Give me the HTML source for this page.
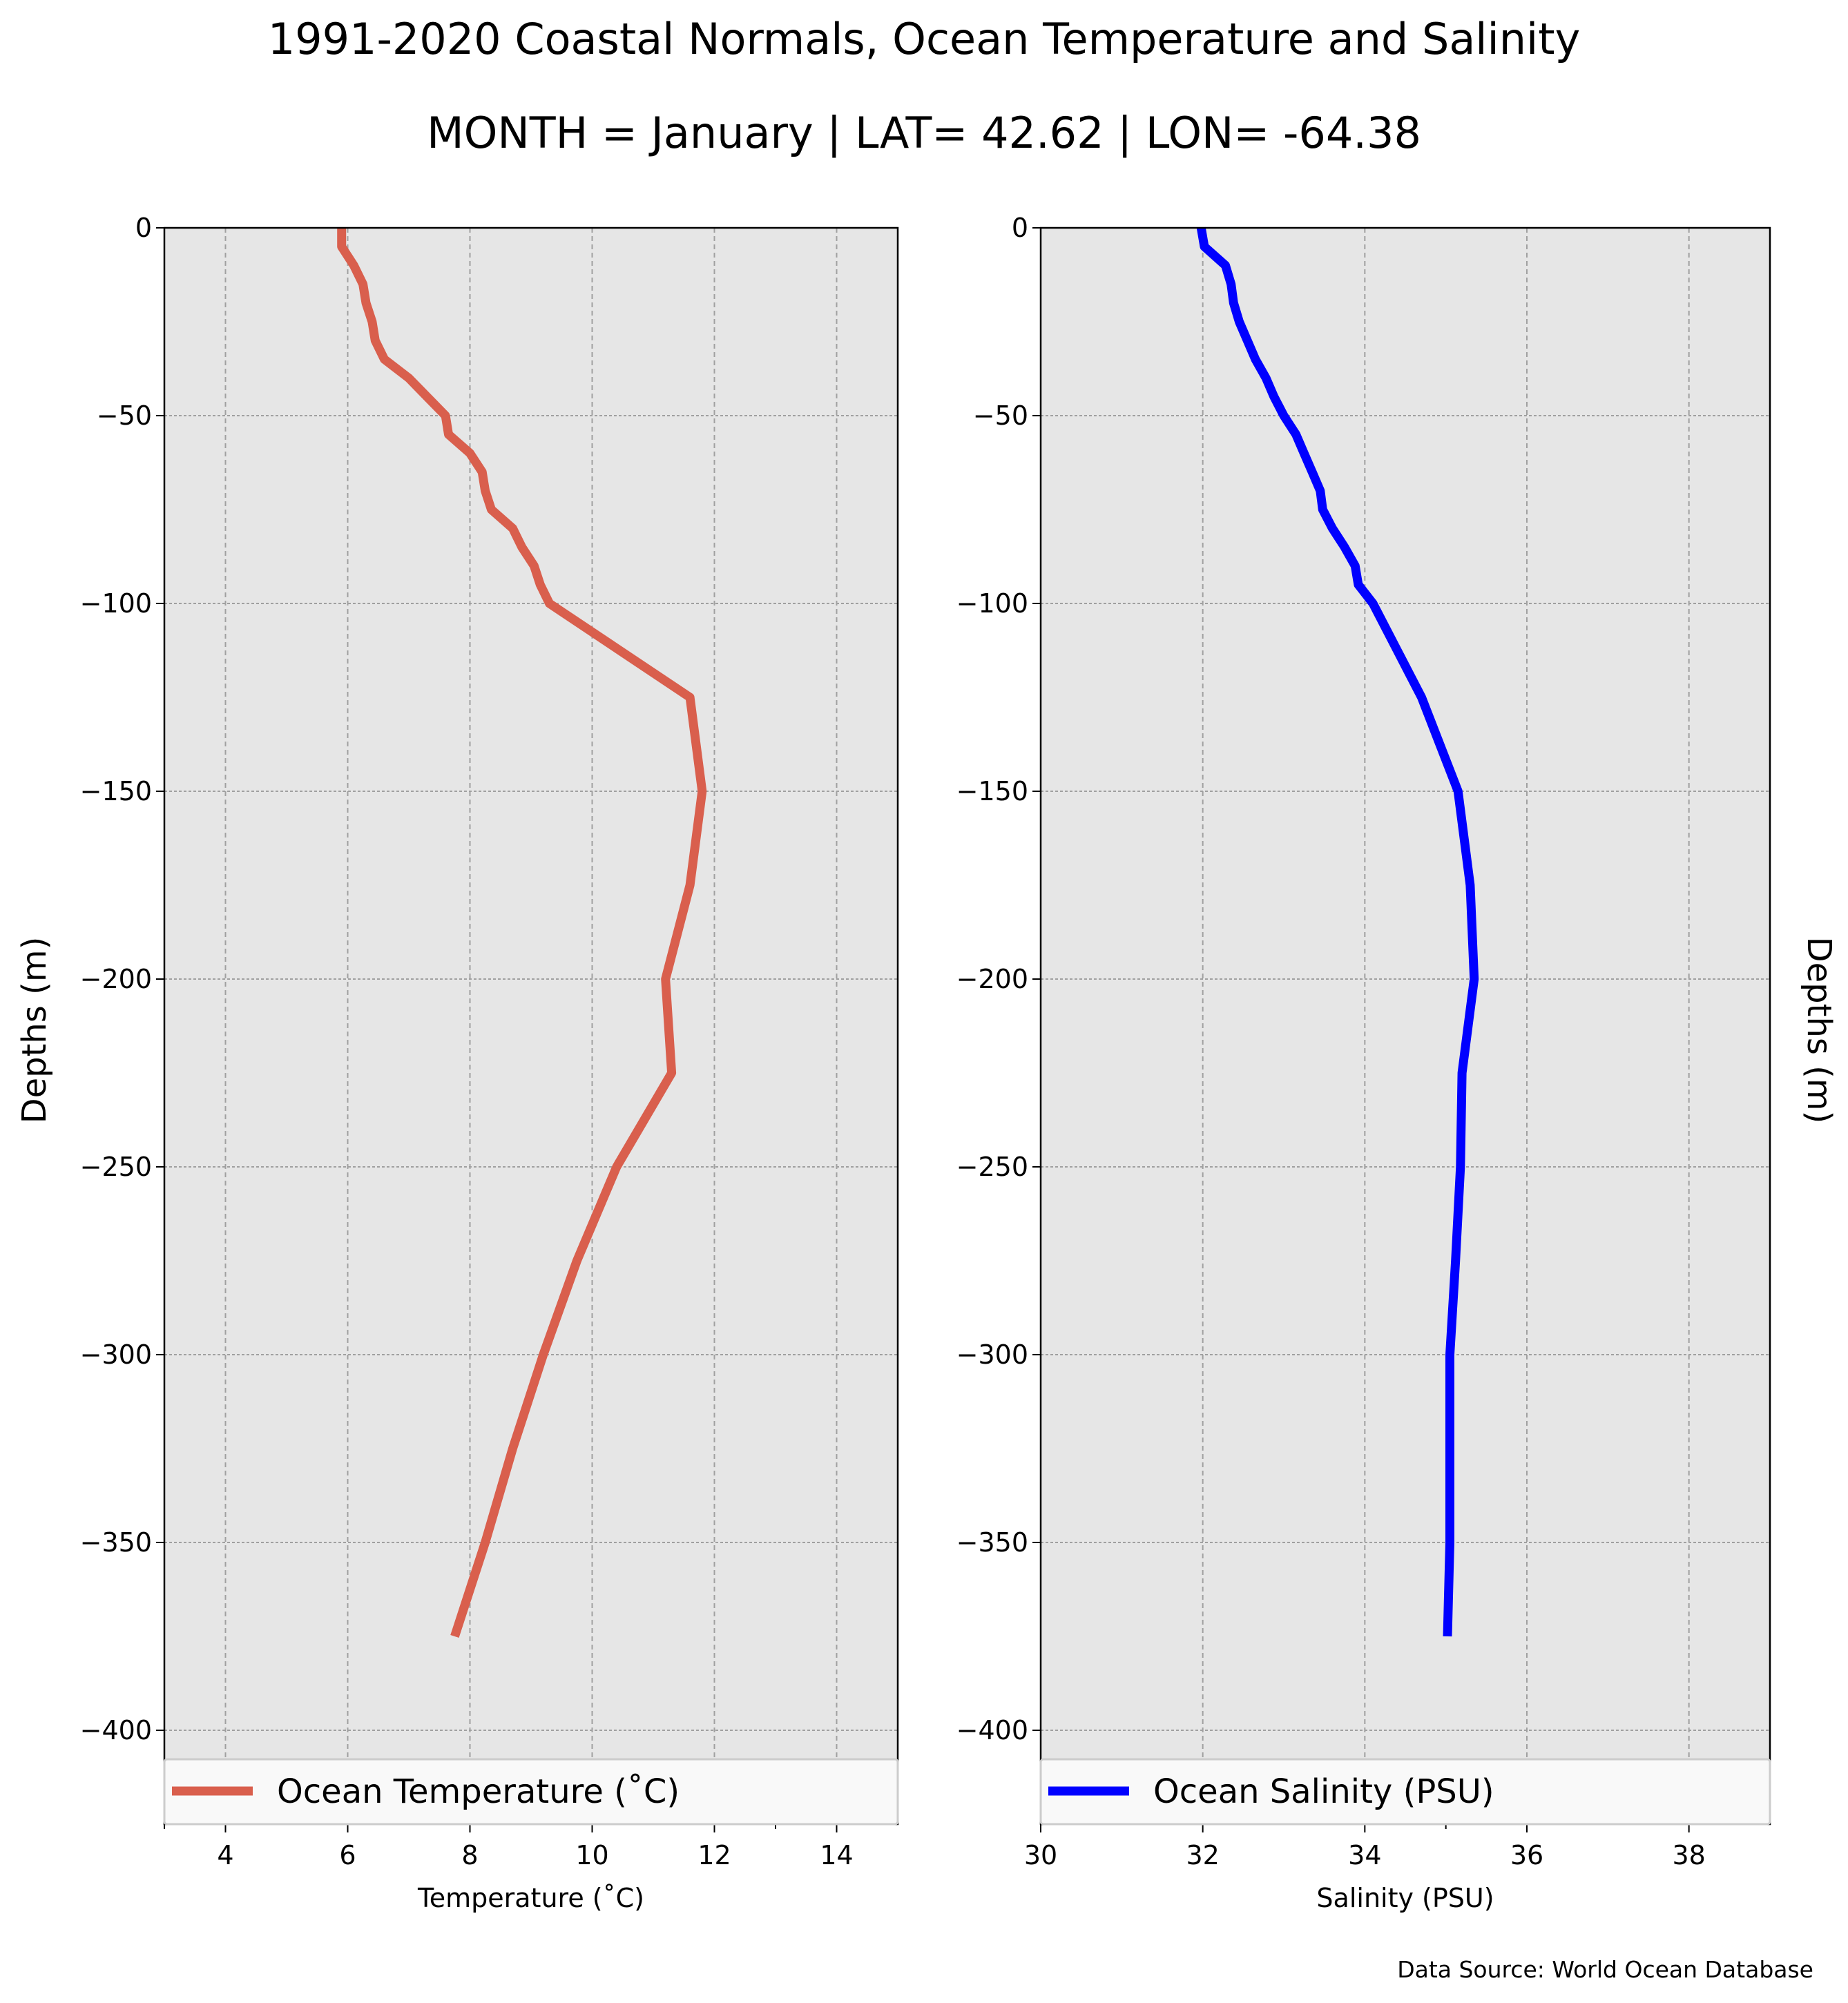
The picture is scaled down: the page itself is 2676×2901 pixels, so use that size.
<!DOCTYPE html>
<html><head><meta charset="utf-8"><style>
html,body{margin:0;padding:0;background:#fff;}
svg{display:block;font-family:"DejaVu Sans","Liberation Sans",sans-serif;}
</style></head><body>
<svg id="fig" width="2676" height="2901" viewBox="0 0 2676 2901" xmlns="http://www.w3.org/2000/svg">
<text x="1338" y="78" font-size="62" text-anchor="middle">1991-2020 Coastal Normals, Ocean Temperature and Salinity</text>
<text x="1338" y="214" font-size="62" text-anchor="middle">MONTH = January | LAT= 42.62 | LON= -64.38</text>
<text transform="translate(66,1492) rotate(-90)" font-size="48" text-anchor="middle">Depths (m)</text>
<text transform="translate(2618,1492) rotate(90)" font-size="48" text-anchor="middle">Depths (m)</text>
<text x="2626" y="2864" font-size="33" text-anchor="end">Data Source: World Ocean Database</text>
<g id="p1"></g>
<g id="p2"></g>
</svg>
<script>
const depths = [0,5,10,15,20,25,30,35,40,45,50,55,60,65,70,75,80,85,90,95,100,125,150,175,200,225,250,275,300,325,350,375];
const temperature = [5.9,5.9,6.1,6.25,6.3,6.4,6.45,6.6,7.0,7.3,7.6,7.65,8.0,8.2,8.25,8.35,8.7,8.85,9.05,9.15,9.3,11.6,11.8,11.6,11.2,11.3,10.4,9.75,9.2,8.7,8.25,7.75];
const salinity = [31.98,32.02,32.28,32.35,32.38,32.45,32.55,32.65,32.78,32.88,33.0,33.15,33.25,33.35,33.45,33.48,33.6,33.75,33.88,33.92,34.1,34.7,35.15,35.3,35.35,35.2,35.18,35.12,35.05,35.05,35.05,35.02];
const depthTicks = [0,-50,-100,-150,-200,-250,-300,-350,-400];
const tempTicks = [4,6,8,10,12,14];
const tempMinor = [3,13];
const salTicks = [30,32,34,36,38];
const salMinor = [35];

const NS="http://www.w3.org/2000/svg";
const plotTop=330, plotBottom=2642, dmin=-425;
function yScale(d){return plotTop+(0-d)/(0-dmin)*(plotBottom-plotTop);}
function mk(parent,tag,attrs){const e=document.createElementNS(NS,tag);for(const k in attrs)e.setAttribute(k,attrs[k]);parent.appendChild(e);return e;}

function panel(gid,x0,x1,vmin,vmax,vals,ticks,minor,color,xlabel,legendText,key){
  const g=document.getElementById(gid);
  const xs=v=>x0+(v-vmin)/(vmax-vmin)*(x1-x0);
  const bg=mk(g,'rect',{x:x0,y:plotTop,width:x1-x0,height:plotBottom-plotTop,fill:'#e6e6e6'});
  
  
  ticks.forEach(t=>{
    const l=mk(g,'line',{x1:xs(t),x2:xs(t),y1:plotTop,y2:plotBottom,stroke:'#a0a0a0','stroke-width':2,'stroke-dasharray':'7,5'});
    
    
    const tk=mk(g,'line',{x1:xs(t),x2:xs(t),y1:plotBottom,y2:plotBottom+12,stroke:'#000','stroke-width':2});
    
    
    const tx=mk(g,'text',{x:xs(t),y:2700,'font-size':38,'text-anchor':'middle'});
    tx.textContent=t;
    
    
  });
  minor.forEach(t=>{
    const tk=mk(g,'line',{x1:xs(t),x2:xs(t),y1:plotBottom,y2:plotBottom+7,stroke:'#000','stroke-width':2});
    
    
  });
  depthTicks.forEach(d=>{
    const y=yScale(d);
    const l=mk(g,'line',{x1:x0,x2:x1,y1:y,y2:y,stroke:'#a0a0a0','stroke-width':2,'stroke-dasharray':'4,3'});
    
    
    const tk=mk(g,'line',{x1:x0-12,x2:x0,y1:y,y2:y,stroke:'#000','stroke-width':2});
    
    
    const tx=mk(g,'text',{x:x0-18,y:y+13,'font-size':38,'text-anchor':'end'});
    tx.textContent=(d<0?'\u2212'+(-d):d);
    
    
  });
  const pts=vals.map((v,i)=>xs(v).toFixed(1)+','+yScale(-depths[i]).toFixed(1)).join(' ');
  const pl=mk(g,'polyline',{points:pts,fill:'none',stroke:color,'stroke-width':13,'stroke-linejoin':'round'});
  
  
  const fr=mk(g,'rect',{x:x0,y:plotTop,width:x1-x0,height:plotBottom-plotTop,fill:'none',stroke:'#000','stroke-width':2.5});
  
  
  const lg=mk(g,'g',{});
  
  
  mk(lg,'rect',{x:x0,y:2548,width:x1-x0,height:94,fill:'#f9f9f9',stroke:'#cccccc','stroke-width':3,rx:4});
  const ls=mk(lg,'line',{x1:x0+11,x2:x0+128,y1:2594,y2:2594,stroke:color,'stroke-width':13});
  
  
  const lt=mk(lg,'text',{x:x0+163,y:2611,'font-size':48});
  lt.textContent=legendText;
  
  
  const xl=mk(g,'text',{x:(x0+x1)/2,y:2762,'font-size':38,'text-anchor':'middle'});
  xl.textContent=xlabel;
  
  
}
panel('p1',238,1300,3,15,temperature,tempTicks,tempMinor,'#d95f4d','Temperature (\u02daC)','Ocean Temperature (\u02daC)','temperature');
panel('p2',1507,2563,30,39,salinity,salTicks,salMinor,'#0000ff','Salinity (PSU)','Ocean Salinity (PSU)','salinity');
</script>
</body></html>
